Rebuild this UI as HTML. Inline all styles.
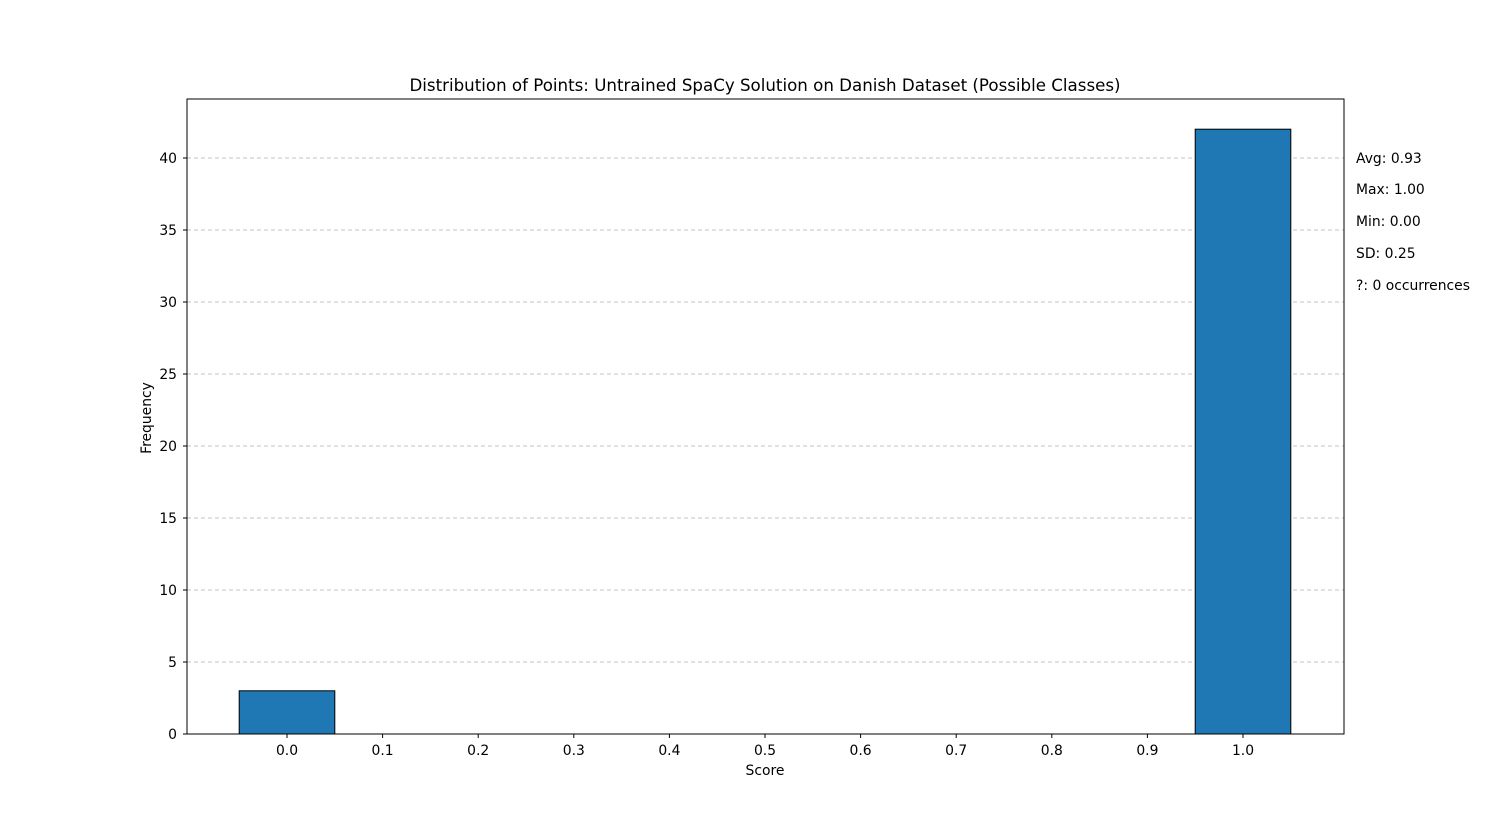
<!DOCTYPE html>
<html><head><meta charset="utf-8"><style>
body{margin:0;background:#fff;}
svg{display:block;font-family:"DejaVu Sans","Liberation Sans",sans-serif;}
</style></head><body>
<svg id="chart" width="1493" height="825" xmlns="http://www.w3.org/2000/svg">
<text x="765" y="91" font-size="16.67" text-anchor="middle">Distribution of Points: Untrained SpaCy Solution on Danish Dataset (Possible Classes)</text>
<g id="grid"></g>
<g id="bars"></g>
<rect x="187" y="99" width="1157" height="635" fill="none" stroke="#000" stroke-width="1"/>
<g id="xticks"></g>
<g id="yticks"></g>
<text x="765" y="775" font-size="13.9" text-anchor="middle">Score</text>
<text x="151" y="418" font-size="13.9" text-anchor="middle" transform="rotate(-90 151 418)">Frequency</text>
<g font-size="13.9">
<text x="1356" y="163">Avg: 0.93</text>
<text x="1356" y="194">Max: 1.00</text>
<text x="1356" y="226">Min: 0.00</text>
<text x="1356" y="258">SD: 0.25</text>
<text x="1356" y="290">?: 0 occurrences</text>
</g>
</svg>
<script>
const categories = [0.0,0.1,0.2,0.3,0.4,0.5,0.6,0.7,0.8,0.9,1.0];
const counts = [3,0,0,0,0,0,0,0,0,0,42];
const xTickLabels = ["0.0","0.1","0.2","0.3","0.4","0.5","0.6","0.7","0.8","0.9","1.0"];
const yTickValues = [0,5,10,15,20,25,30,35,40];

const NS="http://www.w3.org/2000/svg";
function xScale(v){return 287 + v*956;}
function yScale(v){return 734 - v*14.4;}
function mk(tag,attrs,parent){const e=document.createElementNS(NS,tag);for(const k in attrs)e.setAttribute(k,attrs[k]);parent.appendChild(e);return e;}

const grid=document.getElementById('grid'), bars=document.getElementById('bars');
const xt=document.getElementById('xticks'), yt=document.getElementById('yticks');

yTickValues.forEach(v=>{
  const y=yScale(v);
  if(v>0){
    const g=mk('line',{x1:187,x2:1344,y1:y,y2:y,stroke:'#b0b0b0','stroke-dasharray':'4,3','stroke-width':0.8},grid);
    
    
  }
  const t=mk('line',{x1:183,x2:187,y1:y,y2:y,stroke:'#000'},yt);
  
  
  const l=mk('text',{x:177,y:y+5,'font-size':13.9,'text-anchor':'end'},yt);
  l.textContent=String(v);
  
  
});

categories.forEach((c,i)=>{
  const x=xScale(c);
  const t=mk('line',{x1:x,x2:x,y1:734,y2:738,stroke:'#000'},xt);
  
  
  const l=mk('text',{x:x,y:755,'font-size':13.9,'text-anchor':'middle'},xt);
  l.textContent=xTickLabels[i];
  
  
  if(counts[i]>0){
    const x0=xScale(c-0.05), x1=xScale(c+0.05);
    const b=mk('rect',{x:x0,y:yScale(counts[i]),width:x1-x0,height:yScale(0)-yScale(counts[i]),fill:'#1f77b4',stroke:'#000','stroke-width':1},bars);
    
    
  }
});
</script>
</body></html>
